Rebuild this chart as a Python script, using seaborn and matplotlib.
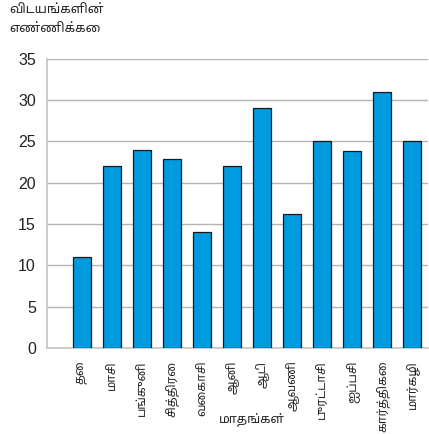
import matplotlib
matplotlib.use("Agg")
import matplotlib.pyplot as plt
from matplotlib import font_manager
import seaborn as sns
import pandas as pd
import numpy as np

months = ["தை", "மாசி", "பங்குனி", "சித்திரை", "வைகாசி", "ஆனி", "ஆடி",
          "ஆவணி", "புரட்டாசி", "ஐப்பசி", "கார்த்திகை", "மார்கழி"]
counts = [11, 22, 23.9, 22.9, 14, 22, 29, 16.2, 25, 23.8, 31, 25]
yticks = [0, 5, 10, 15, 20, 25, 30, 35]
x_title = "மாதங்கள்"
y_title = "விடயங்களின்\nஎண்ணிக்கை"

# find a font that covers Tamil (upright, regular weight preferred)
tamil_font = None
try:
    from fontTools.ttLib import TTFont
    cands = []
    for f in font_manager.fontManager.ttflist:
        try:
            tt = TTFont(f.fname, fontNumber=0, lazy=True)
            cmap = tt.getBestCmap()
            if cmap and 0x0BA4 in cmap and 0x0BC8 in cmap:
                score = 0
                if f.style == "normal":
                    score += 4
                if f.weight in (400, "normal", "regular"):
                    score += 2
                if "Tamil" in f.name:
                    score += 1
                if "Sans" in f.name:
                    score += 1
                cands.append((score, f.name))
        except Exception:
            pass
    if cands:
        cands.sort(key=lambda t: -t[0])
        tamil_font = cands[0][1]
except Exception:
    pass

sns.set_theme(style="white")
fams = ([tamil_font] if tamil_font else []) + ["Liberation Sans", "DejaVu Sans"]
plt.rcParams['font.family'] = fams

df = pd.DataFrame({"month": months, "count": counts})

fig = plt.figure(figsize=(4.29, 4.34), dpi=100)
ax = fig.add_axes([47/429, 1-348/434, (428-47)/429, (348-58.6)/434])

sns.barplot(data=df, x="month", y="count", ax=ax, color="#009ade",
            saturation=1, width=0.6, edgecolor="#1a1a1a", linewidth=0.9, zorder=3)

ax.set_xlim(-1.155, 11.53)
ax.set_ylim(0, 35)
ax.set_yticks(yticks)
ax.set_yticklabels([str(v) for v in yticks], fontsize=11.5, color="#222222",
                   family=["Liberation Sans", "DejaVu Sans"])
ax.yaxis.grid(True, color="#b4b4b4", linewidth=1.0, zorder=0)
ax.set_axisbelow(True)

ax.set_xticks(range(len(months)))
ax.set_xticklabels(months, rotation=90, fontsize=8.6, color="#222222", va="top")
ax.tick_params(axis="x", length=0, pad=9)
ax.set_xticks(np.arange(0.5, len(months) - 1, 1), minor=True)
ax.tick_params(axis="x", which="minor", direction="in", length=8, color="#b4b4b4", width=1)
ax.tick_params(axis="y", direction="in", length=7, color="#b4b4b4", width=1, pad=8)

for s in ["top", "right"]:
    ax.spines[s].set_visible(False)
for s in ["left", "bottom"]:
    ax.spines[s].set_color("#c4c4c4")
    ax.spines[s].set_linewidth(1.2)

ax.set_xlabel("")
ax.set_ylabel("")
fig.text(252/429, 1-420/434, x_title, ha="center", va="center", fontsize=9,
         color="#222222")

fig.text(9/429, 1-5/434, y_title, ha="left", va="top", fontsize=9.2,
         color="#222222", linespacing=1.75)

fig.savefig("out.png", dpi=100)
